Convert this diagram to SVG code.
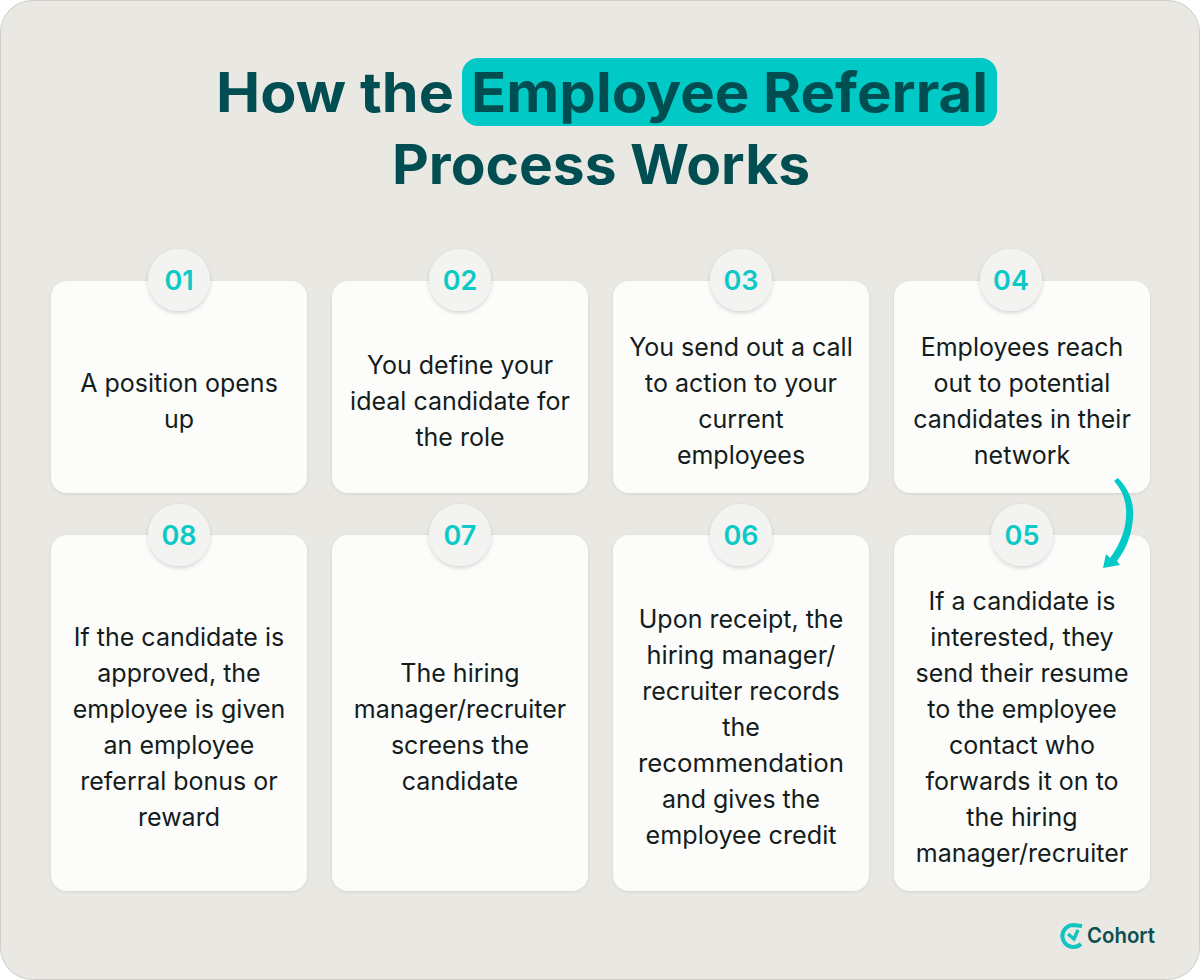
<svg xmlns="http://www.w3.org/2000/svg" width="1200" height="980" viewBox="0 0 1200 980">
<defs>
<filter id="s" x="-20%" y="-20%" width="140%" height="140%"><feDropShadow dx="0" dy="1" stdDeviation="1.5" flood-color="#000" flood-opacity="0.1"/></filter>
<filter id="c" x="-30%" y="-30%" width="160%" height="160%"><feDropShadow dx="0" dy="2" stdDeviation="2" flood-color="#000" flood-opacity="0.16"/></filter>
</defs>
<style>
text{font-family:"Inter","Noto Sans","Liberation Sans",sans-serif}
.h{font-size:55px;font-weight:700;fill:#004e52}
.b{font-size:25px;font-weight:400;fill:#141c1c;text-anchor:middle}
.n{font-size:27px;font-weight:600;fill:#0cc9c6;text-anchor:middle}
.card{fill:#fcfcfb;filter:url(#s)}
.dot{fill:#f3f3f2;filter:url(#c)}
</style>
<rect x="0.5" y="0.5" width="1199" height="979" rx="32" fill="#eae8e3" stroke="#cfcdc8"/>
<g id="title">
<rect x="462" y="58" width="535" height="68" rx="16" fill="#00c9c6"/>
<text class="h" x="216" y="112" textLength="238" lengthAdjust="spacingAndGlyphs">How the</text>
<text class="h" x="471" y="112" textLength="517" lengthAdjust="spacingAndGlyphs">Employee Referral</text>
<text class="h" x="392" y="184" textLength="418" lengthAdjust="spacingAndGlyphs">Process Works</text>
</g>
<g id="node-01"><rect class="card" x="51" y="281" width="256" height="212" rx="16"/><circle class="dot" cx="179" cy="280" r="31"/><text class="n" x="179" y="290">01</text>
<text class="b" x="179" y="392">A position opens</text><text class="b" x="179" y="428">up</text></g>
<g id="node-02"><rect class="card" x="332" y="281" width="256" height="212" rx="16"/><circle class="dot" cx="460" cy="280" r="31"/><text class="n" x="460" y="290">02</text>
<text class="b" x="460" y="374">You define your</text><text class="b" x="460" y="410">ideal candidate for</text><text class="b" x="460" y="446">the role</text></g>
<g id="node-03"><rect class="card" x="613" y="281" width="256" height="212" rx="16"/><circle class="dot" cx="741" cy="280" r="31"/><text class="n" x="741" y="290">03</text>
<text class="b" x="741" y="356">You send out a call</text><text class="b" x="741" y="392">to action to your</text><text class="b" x="741" y="428">current</text><text class="b" x="741" y="464">employees</text></g>
<g id="node-04"><rect class="card" x="894" y="281" width="256" height="212" rx="16"/><circle class="dot" cx="1011" cy="280" r="31"/><text class="n" x="1011" y="290">04</text>
<text class="b" x="1022" y="356">Employees reach</text><text class="b" x="1022" y="392">out to potential</text><text class="b" x="1022" y="428">candidates in their</text><text class="b" x="1022" y="464">network</text></g>
<g id="node-08"><rect class="card" x="51" y="535" width="256" height="356" rx="16"/><circle class="dot" cx="179" cy="535" r="31"/><text class="n" x="179" y="545">08</text>
<text class="b" x="179" y="646">If the candidate is</text><text class="b" x="179" y="682">approved, the</text><text class="b" x="179" y="718">employee is given</text><text class="b" x="179" y="754">an employee</text><text class="b" x="179" y="790">referral bonus or</text><text class="b" x="179" y="826">reward</text></g>
<g id="node-07"><rect class="card" x="332" y="535" width="256" height="356" rx="16"/><circle class="dot" cx="460" cy="535" r="31"/><text class="n" x="460" y="545">07</text>
<text class="b" x="460" y="682">The hiring</text><text class="b" x="460" y="718">manager/recruiter</text><text class="b" x="460" y="754">screens the</text><text class="b" x="460" y="790">candidate</text></g>
<g id="node-06"><rect class="card" x="613" y="535" width="256" height="356" rx="16"/><circle class="dot" cx="741" cy="535" r="31"/><text class="n" x="741" y="545">06</text>
<text class="b" x="741" y="628">Upon receipt, the</text><text class="b" x="741" y="664" textLength="189" lengthAdjust="spacingAndGlyphs">hiring manager/</text><text class="b" x="741" y="700">recruiter records</text><text class="b" x="741" y="736">the</text><text class="b" x="741" y="772" textLength="206" lengthAdjust="spacingAndGlyphs">recommendation</text><text class="b" x="741" y="808" textLength="158" lengthAdjust="spacingAndGlyphs">and gives the</text><text class="b" x="741" y="844" textLength="191" lengthAdjust="spacingAndGlyphs">employee credit</text></g>
<g id="node-05"><rect class="card" x="894" y="535" width="256" height="356" rx="16"/><circle class="dot" cx="1022" cy="535" r="31"/><text class="n" x="1022" y="545">05</text>
<text class="b" x="1022" y="610">If a candidate is</text><text class="b" x="1022" y="646">interested, they</text><text class="b" x="1022" y="682">send their resume</text><text class="b" x="1022" y="718">to the employee</text><text class="b" x="1022" y="754">contact who</text><text class="b" x="1022" y="790">forwards it on to</text><text class="b" x="1022" y="826">the hiring</text><text class="b" x="1022" y="862">manager/recruiter</text></g>
<g id="connectors"><path d="M1114 481 L1118 478 C1131 491 1134 505 1133 518 C1132 533 1127 548 1117 561 L1120 565 L1103 568 L1106 554 L1110 558 C1119 546 1125 532 1126 518 C1127 504 1124 492 1114 481 Z" fill="#00c9c6"/></g>
<g id="logo"><path d="M1082 926 L1073 925 A11 11 0 1 0 1081 944" fill="none" stroke="#12c4bf" stroke-width="4"/><path d="M1068 934 L1074 939 L1078 930" fill="none" stroke="#12c4bf" stroke-width="3.5"/><text x="1087" y="943" font-size="22" font-weight="600" fill="#0d4f52" textLength="68" lengthAdjust="spacingAndGlyphs">Cohort</text></g>
</svg>
